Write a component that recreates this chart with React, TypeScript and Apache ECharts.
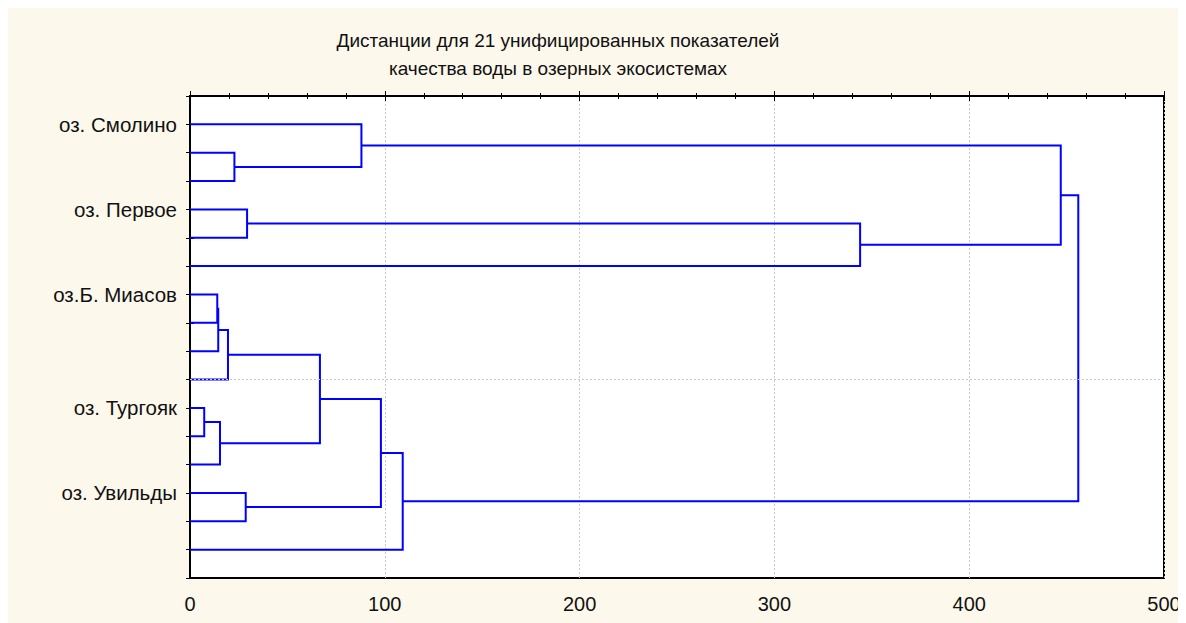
import React, { useEffect, useRef } from "react";
import * as echarts from "echarts";

const titleLines = [
  "Дистанции для 21 унифицированных показателей",
  "качества воды в озерных экосистемах",
];

// 16 leaves, top to bottom; only some carry a name
const leafLabels = [
  "оз. Смолино", "", "",
  "оз. Первое", "", "",
  "оз.Б. Миасов", "", "", "",
  "оз. Тургояк", "", "",
  "оз. Увильды", "", "",
];

// merges: [childA, childB, linkage distance]
// child ids: 0..15 = leaves, 16+k = cluster formed by merge k
const mergeA = [1, 0, 3, 18, 17, 6, 21, 22, 10, 24, 23, 13, 26, 28, 20];
const mergeB = [2, 16, 4, 5, 19, 7, 8, 9, 11, 12, 25, 14, 27, 15, 29];
const mergeH = [22.8, 88, 29.3, 344, 447, 14.0, 14.5, 19.5, 7.3, 15.4, 66.7, 28.6, 98, 109.2, 456];

const xTicks = { min: 0, max: 500, interval: 100 };
const gridLineY = 10;

export default function App() {
  const ref = useRef<HTMLDivElement>(null);

  useEffect(() => {
    document.body.style.overflow = "hidden";
    const chart = echarts.init(ref.current!, undefined, { renderer: "svg" });
    const nLeaves = leafLabels.length;
    const pos: { x: number; y: number }[] = [];
    for (let i = 0; i < nLeaves; i++) pos.push({ x: 0, y: i + 1 });
    const linesData: any[] = [];
    for (let k = 0; k < mergeH.length; k++) {
      const a = pos[mergeA[k]];
      const b = pos[mergeB[k]];
      const h = mergeH[k];
      linesData.push({
        coords: [
          [a.x, a.y],
          [h, a.y],
          [h, b.y],
          [b.x, b.y],
        ],
      });
      pos.push({ x: h, y: (a.y + b.y) / 2 });
    }

    const font = "Liberation Sans";
    const yCommon = {
      type: "value" as const,
      min: 0,
      max: nLeaves + 1,
      interval: 1,
      inverse: true,
      axisLine: { show: true, lineStyle: { color: "#000", width: 2 } },
      axisTick: { show: true, inside: true, length: 4, lineStyle: { color: "#000", width: 1 } },
      splitLine: { show: false },
    };
    const xCommon = {
      type: "value" as const,
      min: xTicks.min,
      max: xTicks.max,
      interval: xTicks.interval,
      axisLine: { show: true, lineStyle: { color: "#000", width: 2 } },
      axisTick: { show: true, inside: true, length: 5, lineStyle: { color: "#000", width: 1 } },
      minorTick: { show: true, splitNumber: 5, length: 3, lineStyle: { color: "#000", width: 1 } },
    };

    chart.setOption({
      animation: false,
      backgroundColor: "#fdf8ec",
      textStyle: { fontFamily: font },
      grid: {
        left: 182,
        top: 88,
        right: 22,
        bottom: 45,
        show: true,
        backgroundColor: "#ffffff",
        borderColor: "#000",
        borderWidth: 2,
        containLabel: false,
      },
      graphic: [
        {
          type: "text",
          x: 550,
          y: 46,
          style: {
            text: titleLines.join("\n"),
            fontSize: 19,
            fontFamily: font,
            fill: "#111",
            align: "center",
            verticalAlign: "middle",
            lineHeight: 28,
          },
        },
      ],
      xAxis: [
        {
          ...xCommon,
          position: "bottom",
          axisLabel: { show: true, fontSize: 20, color: "#111", margin: 16, fontFamily: font },
          splitLine: { show: true, lineStyle: { color: "#c8c8c8", type: [2, 2], width: 1 } },
        },
        {
          ...xCommon,
          position: "top",
          axisLabel: { show: false },
          splitLine: { show: false },
        },
      ],
      yAxis: [
        {
          ...yCommon,
          position: "left",
          axisLabel: {
            show: true,
            fontSize: 20.5,
            color: "#111",
            margin: 13,
            fontFamily: font,
            formatter: (v: number) => leafLabels[v - 1] || "",
          },
        },
        {
          ...yCommon,
          position: "right",
          axisLabel: { show: false },
        },
      ],
      series: [
        {
          type: "line",
          data: [[0, gridLineY]],
          symbol: "none",
          lineStyle: { opacity: 0 },
          silent: true,
          markLine: {
            silent: true,
            symbol: "none",
            label: { show: false },
            lineStyle: { color: "#c8c8c8", type: [2, 2], width: 1 },
            data: [{ yAxis: gridLineY }],
          },
        },
        {
          type: "lines",
          coordinateSystem: "cartesian2d",
          polyline: true,
          xAxisIndex: 0,
          yAxisIndex: 0,
          silent: true,
          lineStyle: { color: "#0000ff", width: 2, opacity: 1 },
          data: linesData,
        },
      ],
    });
    return () => chart.dispose();
  }, []);

  return <div ref={ref} style={{ width: 1178, height: 615 }} />;
}
